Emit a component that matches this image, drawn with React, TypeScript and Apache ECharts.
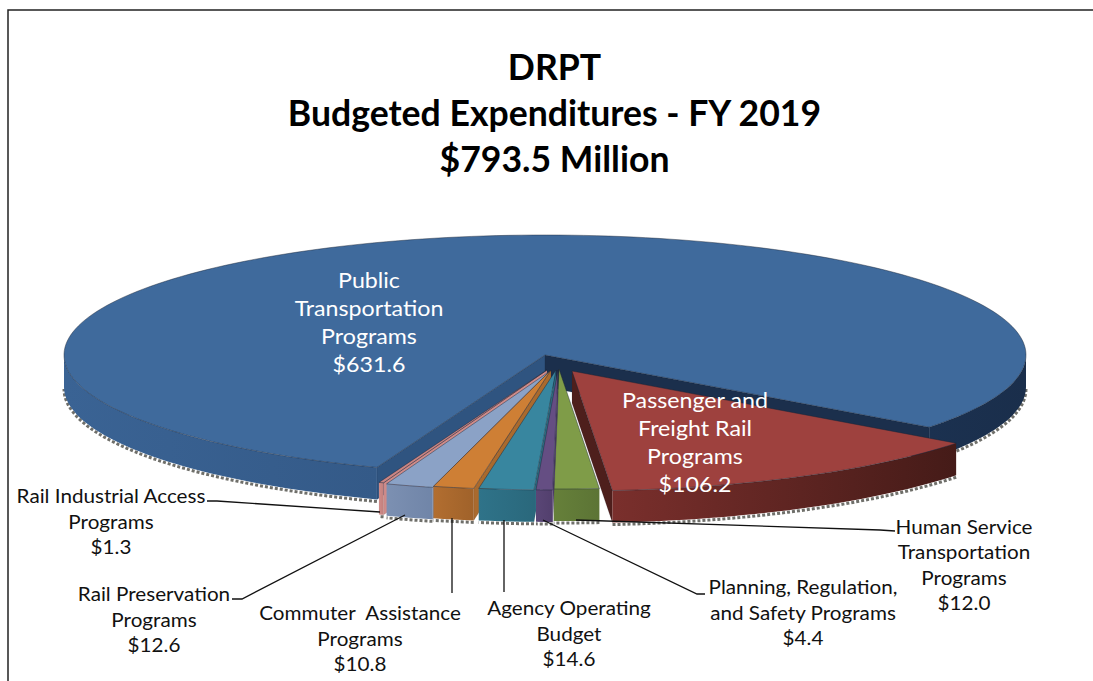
import React, { useEffect, useRef } from "react";
import * as echarts from "echarts";

const titleLines = ["DRPT", "Budgeted Expenditures - FY 2019", "$793.5 Million"];

// Clockwise from the right-hand edge of the large slice's gap
const categories = [
  "Public\nTransportation\nPrograms",
  "Passenger and\nFreight Rail\nPrograms",
  "Human Service\nTransportation\nPrograms",
  "Planning, Regulation,\nand Safety Programs",
  "Agency Operating\nBudget",
  "Commuter  Assistance\nPrograms",
  "Rail Preservation\nPrograms",
  "Rail Industrial Access\nPrograms",
];
const values = [631.6, 106.2, 12.0, 4.4, 14.6, 10.8, 12.6, 1.3];

// Presentation only
const topColors = ["#3F6A9C", "#9E413E", "#7F9C48", "#654E83", "#38869F", "#CE7F35", "#8BA2C6", "#C98583"];
const wallColors: [string, string][] = [
  ["#3A6394", "#345A88"],
  ["#7A2F2C", "#451B18"],
  ["#66803A", "#5C7435"],
  ["#5A4676", "#523F6D"],
  ["#2F7389", "#2A687C"],
  ["#B26E30", "#A0622A"],
  ["#7C90B2", "#7085A8"],
  ["#CF8B89", "#C27F7C"],
];
const cutColors = ["#2F5480", "#4E1F1C", "#5F7537", "#523F6D", "#2C6D82", "#A96A2E", "#7388AC", "#CF8B89"];
const sliceCentres = [[545, 355], [572, 371], [559, 369], [558, 370], [556, 370], [551, 370], [550, 371], [547, 370]];
const paintOrder = [0, 1, 6, 7, 5, 4, 3, 2]; // z per slice
const labelAnchors = [[369, 322], [695, 442], [964, 564], [803, 612], [569, 633], [360, 638], [154, 619], [111, 521]];
const labelInside = [true, true, false, false, false, false, false, false];
const leaders: (number[][] | null)[] = [
  null,
  null,
  [[576, 520], [880, 530], [895, 531]],
  [[543, 520], [697, 594], [705, 594]],
  [[504, 520], [504, 592]],
  [[452, 518], [452, 593]],
  [[405, 515], [242, 599], [232, 599]],
  [[380, 512], [217, 501], [207, 501]],
];

const RX = 481;
const RY = 120;
const DEPTH = 32;
const START_DEG = 37;
const FONT = "Lato, Carlito, Calibri, sans-serif";

const total = values.reduce((a, b) => a + b, 0);
const rad = (d: number) => (d * Math.PI) / 180;

function arc(cx: number, cy: number, a0: number, a1: number, dy = 0) {
  const pts: number[][] = [];
  const n = Math.max(2, Math.ceil(Math.abs(a1 - a0) / 1.5));
  for (let i = 0; i <= n; i++) {
    const a = rad(a0 + ((a1 - a0) * i) / n);
    pts.push([cx + RX * Math.cos(a), cy + RY * Math.sin(a) + dy]);
  }
  return pts;
}

function visibleRanges(a0: number, a1: number) {
  const out: number[][] = [];
  for (const [lo, hi] of [[0, 180], [360, 540]]) {
    const s = Math.max(a0, lo);
    const e = Math.min(a1, hi);
    if (e > s) out.push([s, e]);
  }
  return out;
}

function renderSlice(params: any) {
  const i = params.dataIndex;
  const before = values.slice(0, i).reduce((a, b) => a + b, 0);
  // The large slice begins after the gap the other slices occupy
  const offset = START_DEG + ((total - values[0]) / total) * 360;
  const a0 = i === 0 ? offset : START_DEG + ((before - values[0]) / total) * 360;
  const a1 = a0 + (values[i] / total) * 360;
  const [cx, cy] = sliceCentres[i];
  const z = paintOrder[i] * 5;
  const children: any[] = [];

  const cut = (a: number, visible: boolean, fill: string) => {
    if (!visible) return;
    const p = [cx + RX * Math.cos(rad(a)), cy + RY * Math.sin(rad(a))];
    children.push({
      type: "polygon",
      z2: z,
      shape: { points: [[cx, cy], p, [p[0], p[1] + DEPTH], [cx, cy + DEPTH]] },
      style: { fill, stroke: "rgba(25,35,50,0.25)", lineWidth: 0.5 },
    });
  };
  cut(a0, Math.cos(rad(a0)) < 0, cutColors[i]);
  cut(a1, Math.cos(rad(a1)) > 0, i === 0 ? "#1B2F4C" : cutColors[i]);

  for (const [s, e] of visibleRanges(a0, a1)) {
    const top = arc(cx, cy, s, e);
    const bottom = arc(cx, cy, s, e, DEPTH);
    const rightSide = i === 0 && s >= 360;
    const colors = rightSide ? ["#1B3150", "#1A2E4B"] : wallColors[i];
    children.push({
      type: "polyline",
      z2: z,
      shape: { points: arc(cx, cy, s, e, DEPTH + 2) },
      style: { fill: "none", stroke: "#6f6f6a", lineWidth: 3, lineDash: [3, 2] },
    });
    children.push({
      type: "polygon",
      z2: z + 1,
      shape: { points: [...top, ...bottom.reverse()] },
      style: {
        fill: new echarts.graphic.LinearGradient(0, 0, 1, 0, [
          { offset: 0, color: colors[0] },
          { offset: 1, color: colors[1] },
        ]),
      },
    });
  }

  children.push({
    type: "polygon",
    z2: z + 2,
    shape: { points: [[cx, cy], ...arc(cx, cy, a0, a1)] },
    style: { fill: topColors[i], stroke: "rgba(25,35,50,0.55)", lineWidth: 0.8 },
  });

  const leader = leaders[i];
  if (leader) {
    children.push({
      type: "polyline",
      z2: 100,
      shape: { points: leader },
      style: { fill: "none", stroke: "#111", lineWidth: 1.3 },
    });
  }

  const inside = labelInside[i];
  children.push({
    type: "text",
    z2: 101,
    x: labelAnchors[i][0],
    y: labelAnchors[i][1],
    scaleX: inside ? 1.055 : 1.06,
    style: {
      x: 0,
      y: 0,
      text: `${categories[i]}\n$${values[i].toFixed(1)}`,
      align: "center",
      verticalAlign: "middle",
      fontFamily: FONT,
      fontSize: inside ? 22 : 19.5,
      lineHeight: inside ? 28 : 25.5,
      fill: inside ? "#FFFFFF" : "#111111",
    },
  });
  return { type: "group", children };
}

export default function App() {
  const ref = useRef<HTMLDivElement>(null);
  useEffect(() => {
    if (!ref.current) return;
    const chart = echarts.init(ref.current, undefined, { renderer: "svg" });
    chart.setOption({
      animation: false,
      backgroundColor: "#FFFFFF",
      title: {
        text: titleLines.join("\n"),
        left: 549.5,
        top: 38,
        textAlign: "center",
        textStyle: { fontFamily: FONT, fontSize: 35.6, fontWeight: "bold", color: "#000", lineHeight: 46 },
      },
      graphic: [
        {
          type: "polyline",
          silent: true,
          shape: { points: [[8, 681], [8, 10], [1093, 10]] },
          style: { fill: "none", stroke: "#222", lineWidth: 1.5 },
        },
      ],
      series: [
        {
          type: "custom",
          coordinateSystem: "none",
          silent: true,
          data: values.map((value, i) => ({ name: categories[i], value })),
          renderItem: renderSlice,
        },
      ],
    });
    return () => chart.dispose();
  }, []);
  return <div ref={ref} style={{ position: "fixed", left: 0, top: 0, width: 1093, height: 681 }} />;
}
